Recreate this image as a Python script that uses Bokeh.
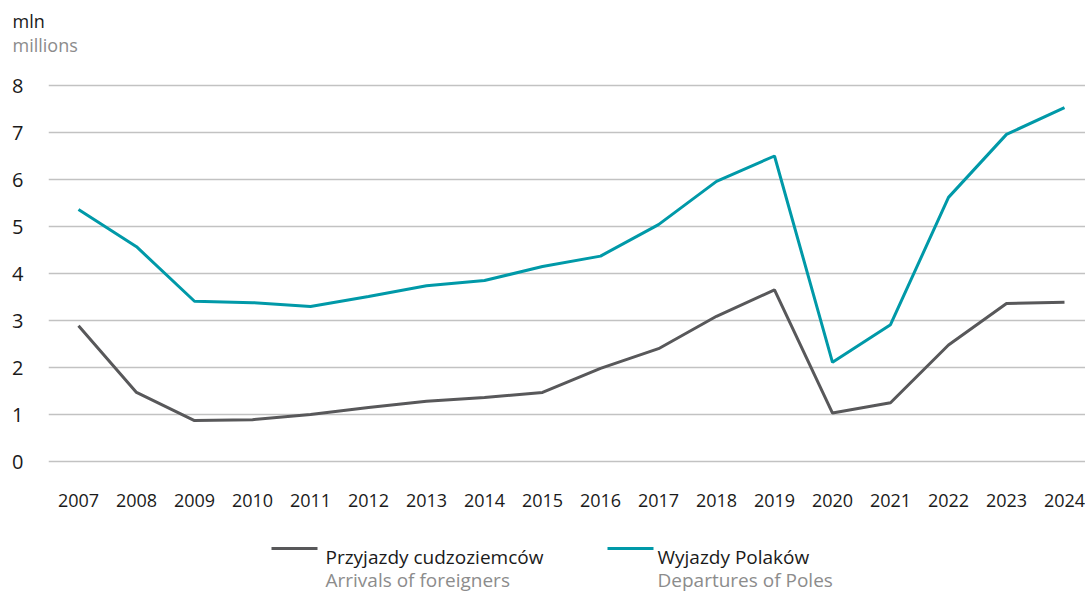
from bokeh.plotting import figure
from bokeh.layouts import column
from bokeh.models import Range1d, FixedTicker, Title
from bokeh.core.properties import value
from bokeh.embed import file_html
from bokeh.resources import INLINE

years = list(range(2007, 2025))
arrivals = [2.89, 1.47, 0.87, 0.89, 1.00, 1.15, 1.28, 1.36, 1.47, 1.98, 2.40, 3.09, 3.65,
            1.03, 1.25, 2.48, 3.36, 3.39]
departures = [5.36, 4.57, 3.41, 3.38, 3.30, 3.51, 3.74, 3.85, 4.15, 4.37, 5.04, 5.96, 6.50,
              2.11, 2.91, 5.62, 6.96, 7.53]
y_ticks = [0, 1, 2, 3, 4, 5, 6, 7, 8]
series_pl = ["Przyjazdy cudzoziemców", "Wyjazdy Polaków"]
series_en = ["Arrivals of foreigners", "Departures of Poles"]
unit_pl = "mln"
unit_en = "millions"

GRAY = "#58585a"
TEAL = "#0099a8"
TXT = "#1a1a1a"
SUB = "#8c8c8c"
FONT = "Open Sans"

W = 1085
H_MAIN, H_LEG = 530, 61
FRAME_LEFT = 48

# ---------- main chart ----------
px_per_year = 58.0
x0 = 2007 - 30 / px_per_year
x1 = 2024 + 21 / px_per_year
px_per_unit = 47.0
y0 = -9 / px_per_unit
y1 = 8 + 10 / px_per_unit

p = figure(width=W, height=H_MAIN, output_backend="svg", toolbar_location=None,
           x_range=Range1d(x0, x1), y_range=Range1d(y0, y1),
           min_border_left=FRAME_LEFT, min_border_right=0, min_border_top=75,
           min_border_bottom=60)
p.outline_line_color = None

p.add_layout(Title(text=unit_en, align="left", offset=12 - FRAME_LEFT, text_font=FONT,
                   text_font_size="18px", text_font_style="normal", text_color=SUB,
                   standoff=38), "above")
p.add_layout(Title(text=unit_pl, align="left", offset=12 - FRAME_LEFT, text_font=FONT,
                   text_font_size="18px", text_font_style="normal", text_color=TXT,
                   standoff=-42), "above")

p.xgrid.grid_line_color = None
p.ygrid.grid_line_color = "#c2c2c2"
p.ygrid.grid_line_width = 1.3
p.ygrid.ticker = FixedTicker(ticks=y_ticks)

p.yaxis.ticker = FixedTicker(ticks=y_ticks)
p.yaxis.axis_line_color = None
p.yaxis.major_tick_line_color = None
p.yaxis.minor_tick_line_color = None
p.yaxis.major_tick_out = 0
p.yaxis.major_tick_in = 0
p.yaxis.minor_tick_out = 0
p.yaxis.major_label_standoff = 25
p.yaxis.major_label_text_font = FONT
p.yaxis.major_label_text_font_size = "20px"
p.yaxis.major_label_text_color = TXT

p.xaxis.ticker = FixedTicker(ticks=years)
p.xaxis.axis_line_color = None
p.xaxis.major_tick_line_color = None
p.xaxis.minor_tick_line_color = None
p.xaxis.major_tick_out = 0
p.xaxis.major_tick_in = 0
p.xaxis.minor_tick_out = 0
p.xaxis.major_label_standoff = 23
p.xaxis.major_label_text_font = FONT
p.xaxis.major_label_text_font_size = "18px"
p.xaxis.major_label_text_color = TXT

p.line(years, arrivals, line_color=GRAY, line_width=3)
p.line(years, departures, line_color=TEAL, line_width=3)

# ---------- legend (frame is aligned with the chart frame: page x 48..1085) ----------
leg = figure(width=W, height=H_LEG, output_backend="svg", toolbar_location=None,
             x_range=Range1d(FRAME_LEFT, W), y_range=Range1d(H_LEG, 0),
             min_border=0, min_border_left=FRAME_LEFT, min_border_right=0,
             min_border_top=0, min_border_bottom=0)
leg.axis.visible = False
leg.grid.visible = False
leg.outline_line_color = None

legend_pos = [(271, 317, 325), (607, 653, 657)]
for (ls, le, tx), col, pl, en in zip(legend_pos, [GRAY, TEAL], series_pl, series_en):
    leg.line([ls, le], [18, 18], line_color=col, line_width=3)
    leg.text(x=[tx], y=[26], text=[pl], text_font=value(FONT), text_font_size="19px",
             text_color=TXT, text_baseline="alphabetic")
    leg.text(x=[tx], y=[49], text=[en], text_font=value(FONT), text_font_size="19px",
             text_color=SUB, text_baseline="alphabetic")

layout = column(p, leg, spacing=0)
open("out.html", "w").write(file_html(layout, INLINE))
